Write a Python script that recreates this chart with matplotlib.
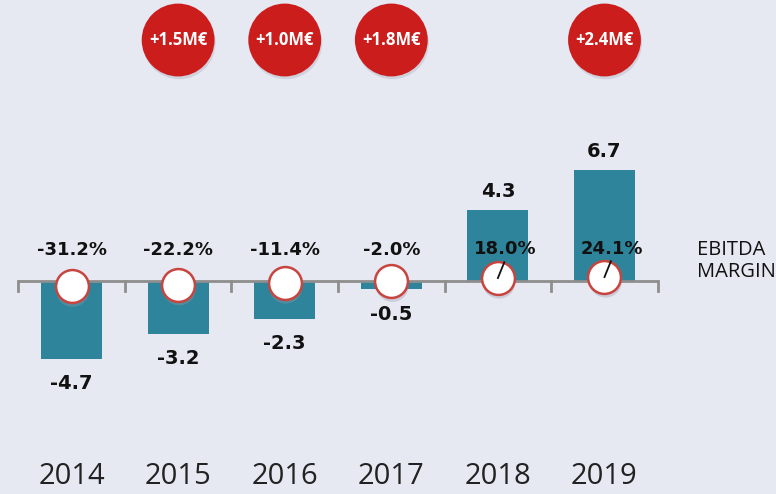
"""
EBITDA evolution chart (M€) with EBITDA margin markers
"""
import matplotlib.pyplot as plt
import numpy as np

plt.rcParams['font.family'] = ['Open Sans', 'DejaVu Sans']

# data
years = ['2014', '2015', '2016', '2017', '2018', '2019']
ebitda = [-4.7, -3.2, -2.3, -0.5, 4.3, 6.7]
margin = [-31.2, -22.2, -11.4, -2.0, 18.0, 24.1]
increase_years = ['2015', '2016', '2017', '2019']
increase_labels = ['+1.5M€', '+1.0M€', '+1.8M€', '+2.4M€']

BG = '#E6E8F2'
BAR = '#2E859B'
RED = '#CC1D1D'
TXT = '#111111'
BOLD_FONT = ['DejaVu Sans']

fig = plt.figure(figsize=(7.76, 4.94), dpi=100, facecolor=BG)
ax = fig.add_axes([0, 0, 1, 1])
ax.set_facecolor(BG)
ax.set_xlim(-0.671, 6.609)
ax.set_ylim(-12.83, 16.93)
ax.axis('off')

x = np.arange(len(years))

# bars
ax.bar(x, ebitda, width=0.572, color=BAR, zorder=2)

# base axis with ticks at category boundaries
ax.plot([-0.5, len(years) - 0.5], [0, 0], color='#8E8E8E', lw=2, zorder=3,
        solid_capstyle='butt')
for b in np.arange(-0.5, len(years), 1.0):
    ax.plot([b, b], [0, -0.6], color='#8E8E8E', lw=2, zorder=3)

# value labels
for xi, v in zip(x, ebitda):
    if v < 0:
        ax.annotate(f'{v:.1f}', (xi, v), xytext=(0, -11), textcoords='offset points',
                    ha='center', va='top', fontsize=14, weight='bold', color=TXT,
                    family=BOLD_FONT)
    else:
        ax.annotate(f'{v:.1f}', (xi, v), xytext=(0, 6), textcoords='offset points',
                    ha='center', va='bottom', fontsize=14, weight='bold', color=TXT,
                    family=BOLD_FONT)

# margin markers (white circles on the axis)
my = np.array(margin) / 100.0
ax.scatter(x + 0.01, my - 0.25, s=560, color='#9A9AA8', alpha=0.35,
           edgecolors='none', zorder=4)
ax.scatter(x, my, s=560, color='white', edgecolors='#C8443F', linewidths=1.8,
           zorder=5)

# margin labels
for xi, m, yy in zip(x, margin, my):
    if m < 0:
        ax.text(xi, 1.85, f'{m:.1f}%', ha='center', va='center',
                fontsize=13, weight='bold', color=TXT, zorder=6, family=BOLD_FONT)
    else:
        ax.text(xi + 0.07, 1.95, f'{m:.1f}%', ha='center', va='center',
                fontsize=13, weight='bold', color=TXT, zorder=6, family=BOLD_FONT)
        ax.plot([xi, xi + 0.06], [yy, yy + 0.95], color=TXT, lw=1.3, zorder=6)

ax.text(5.87, 1.2, 'EBITDA\nMARGIN', ha='left', va='center', fontsize=14.5,
        color=TXT, linespacing=1.1)

# yearly increase bubbles
bx = [years.index(y) for y in increase_years]
ax.scatter(np.array(bx) + 0.01, [14.35] * len(bx), s=2750, color='#8E8EA0',
           alpha=0.25, edgecolors='none', zorder=2)
ax.scatter(bx, [14.52] * len(bx), s=2750, color=RED, edgecolors='none', zorder=3)
for xi, lab in zip(bx, increase_labels):
    ax.text(xi, 14.52, lab, ha='center', va='center', fontsize=12,
            weight='bold', color='white', zorder=4)

# year labels
for xi, yr in zip(x, years):
    ax.text(xi, -11.75, yr, ha='center', va='center', fontsize=21,
            color='#222222')

plt.savefig('out.png', dpi=100, facecolor=BG)
plt.close()
